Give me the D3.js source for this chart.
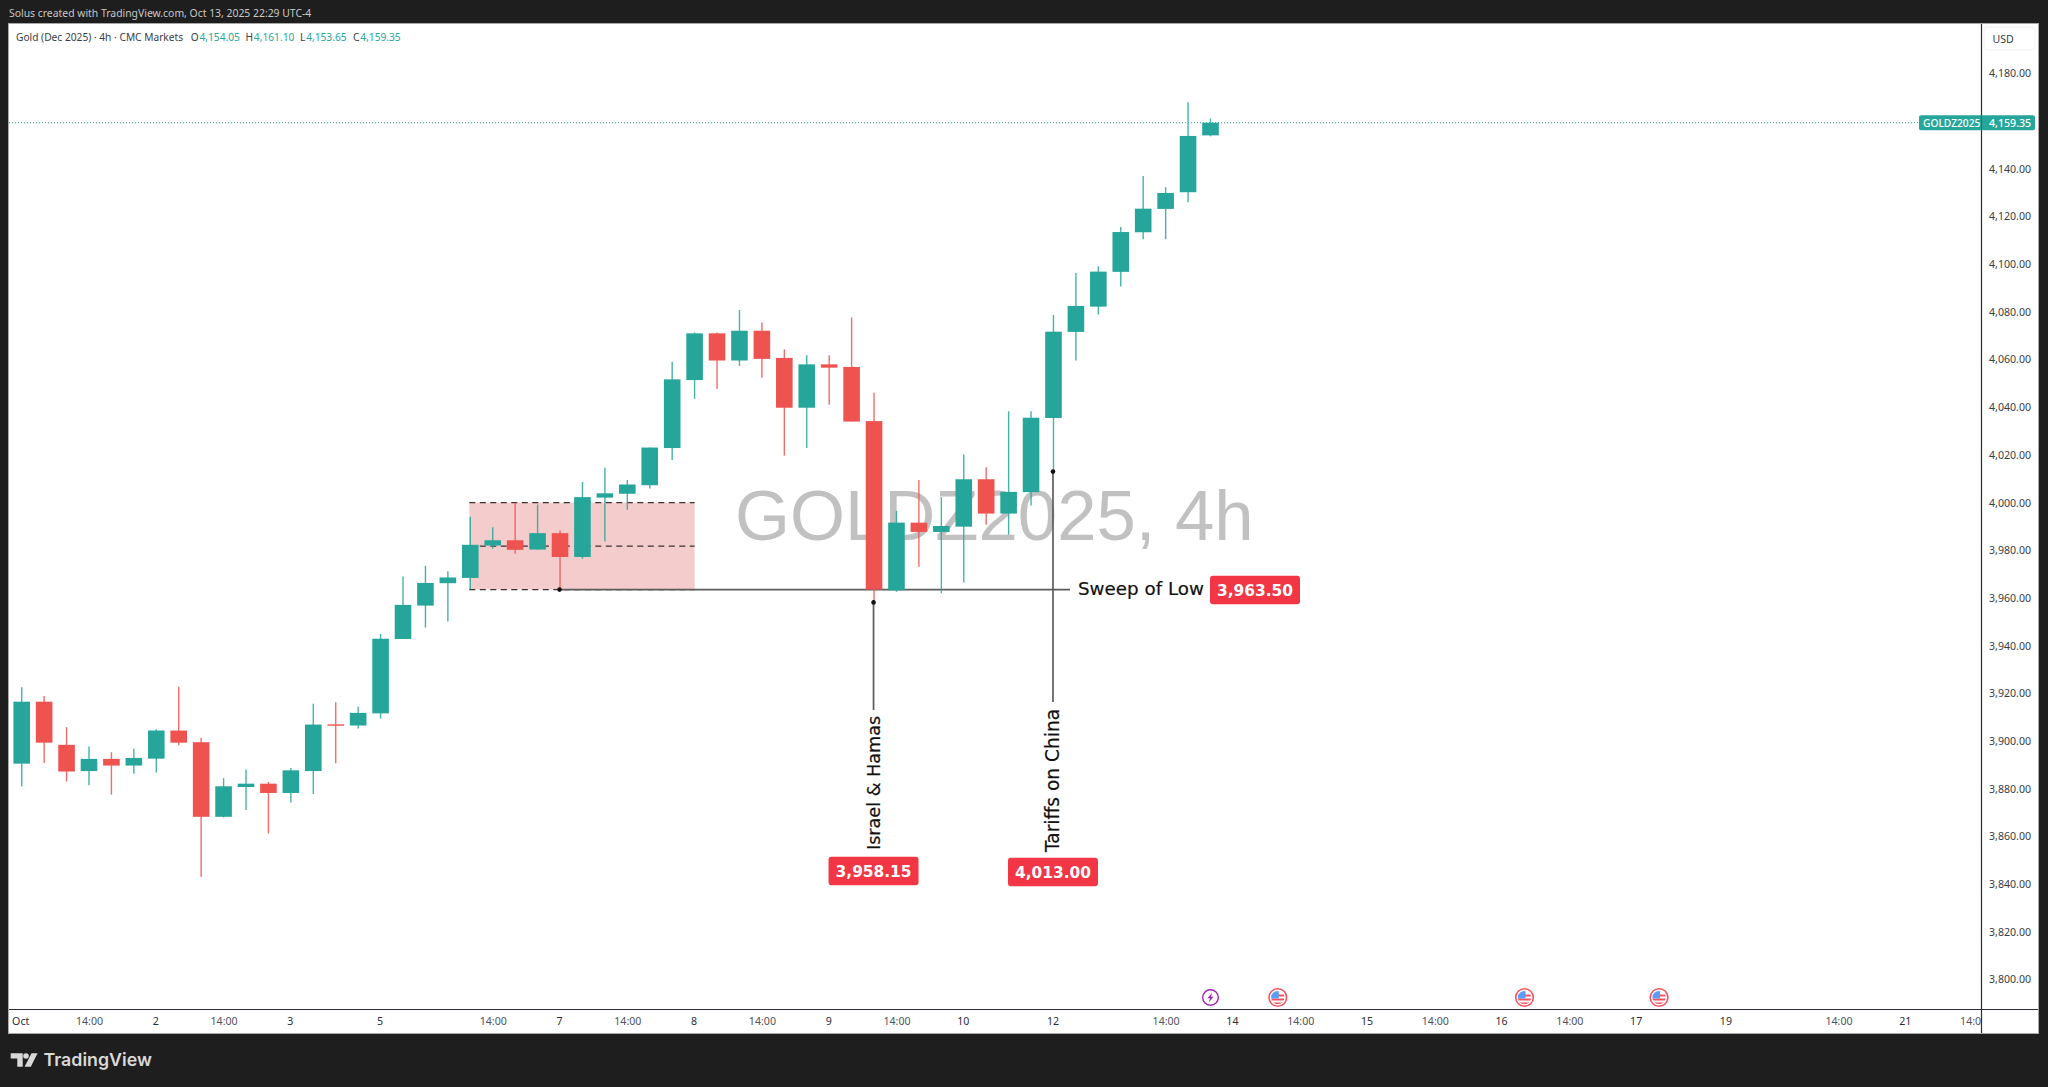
<!DOCTYPE html>
<html><head><meta charset="utf-8">
<script src="https://cdnjs.cloudflare.com/ajax/libs/d3/7.8.5/d3.min.js"></script>
<style>html,body{margin:0;padding:0;background:#1e1e1e;overflow:hidden}svg{display:block}text{font-family:"Noto Sans",sans-serif}</style>
</head><body><svg id="c" width="2048" height="1087"></svg>
<script>
const opens=[3890.5,3916.5,3898.4,3887.4,3892.5,3889.7,3892.6,3904.4,3899.5,3868.2,3880.7,3882.1,3878.2,3887.4,3907.0,3906.5,3911.6,3942.8,3956.8,3966.2,3968.4,3982.0,3984.2,3980.3,3987.2,3977.2,4002.1,4003.7,4007.3,4022.9,4051.4,4071.0,4059.6,4072.1,4060.7,4039.8,4058.0,4056.9,4034.2,3963.2,3991.6,3987.7,3989.9,4009.8,3995.4,4004.4,4035.5,4071.6,4082.2,4096.8,4113.4,4123.2,4130.2,4154.05];
const highs=[3922.5,3918.9,3905.8,3897.7,3895.3,3896.7,3904.9,3922.8,3901.4,3884.4,3888.0,3882.8,3888.7,3915.6,3916.3,3914.4,3944.9,3969.0,3973.5,3971.2,3994.1,3989.7,4000.0,3999.2,3988.3,4008.7,4014.6,4009.5,4023.1,4059.1,4071.4,4071.4,4080.8,4075.5,4064.3,4061.8,4061.8,4077.7,4046.1,3996.5,4009.5,4002.3,4020.2,4014.8,4038.3,4038.3,4078.7,4096.3,4099.1,4115.6,4137.0,4132.3,4167.9,4161.10];
const lows=[3880.9,3890.8,3883.0,3881.4,3877.5,3886.3,3886.8,3898.2,3843.0,3867.9,3871.1,3861.2,3874.2,3877.8,3890.7,3905.2,3909.4,3942.8,3947.6,3950.1,3963.7,3980.6,3978.5,3980.3,3963.4,3976.5,3983.7,3997.0,4005.9,4017.9,4043.6,4047.7,4057.3,4052.4,4019.7,4022.9,4041.0,4034.0,3958.15,3962.6,3973.1,3962.0,3966.5,3990.7,3986.5,3998.8,4013.0,4059.6,4078.9,4090.6,4110.5,4110.5,4126.0,4153.65];
const closes=[3916.5,3899.3,3887.2,3892.5,3889.7,3892.9,3904.4,3899.3,3868.2,3881.0,3882.1,3878.2,3887.7,3906.9,3906.7,3911.8,3942.9,3957.1,3966.3,3968.6,3982.3,3984.2,3980.2,3987.2,3977.2,4002.3,4003.9,4007.6,4023.1,4051.7,4071.0,4059.6,4072.1,4060.3,4039.8,4058.0,4056.6,4034.0,3963.5,3991.6,3987.7,3990.2,4009.8,3995.4,4004.5,4035.6,4071.7,4082.5,4096.9,4113.5,4123.3,4129.9,4153.8,4159.35];
const priceTicks=[4180,4140,4120,4100,4080,4060,4040,4020,4000,3980,3960,3940,3920,3900,3880,3860,3840,3820,3800];
const timeIdx=[0,3,6,9,12,16,21,24,27,30,33,36,39,42,46,51,54,57,60,63,66,69,72,76,81,84,87];
const timeLabels=["Oct","14:00","2","14:00","3","5","14:00","7","14:00","8","14:00","9","14:00","10","12","14:00","14","14:00","15","14:00","16","14:00","17","19","14:00","21","14:00"];
const flagEvents=[56,67,73];
const boltEvents=[53];
const zonePrices=[4000,3981.75,3963.5];
const zoneIdx=[20,30];
const sweep={fromIdx:24,price:3963.5,label:"Sweep of Low",tag:"3,963.50"};
const callouts=[{idx:38,price:3958.15,label:"Israel & Hamas",tag:"3,958.15"},{idx:46,price:4013,label:"Tariffs on China",tag:"4,013.00"}];
const lastPrice=4159.35;
const legendParts=[["O","4,154.05",190.7],["H","4,161.10",245.5],["L","4,153.65",300],["C","4,159.35",353]];

const UP="#26a69a",DOWN="#ef5350";
const L=9,R=2038,T=24,B=1033,AX=1981,AY=1009;
const svg=d3.select("#c");
const x=d3.scaleLinear().domain([0,1]).range([21.7,44.13]);
const y=d3.scaleLinear().domain([4180,3800]).range([73.5,979.4]);
const mono='"Noto Sans",sans-serif', big='"DejaVu Sans",sans-serif';

svg.append("rect").attr("x",L-.5).attr("y",T-.5).attr("width",R-L+1).attr("height",B-T+1).attr("fill","#fff").attr("stroke","#a8a8a8");
const defs=svg.append("defs");
defs.append("clipPath").attr("id","pane").append("rect").attr("x",L).attr("y",T).attr("width",AX-L).attr("height",AY-T);
defs.append("clipPath").attr("id","taxis").append("rect").attr("x",L).attr("y",AY).attr("width",AX-L).attr("height",B-AY);
defs.append("clipPath").attr("id","flag").append("circle").attr("r",6.6);

svg.append("text").attr("x",9).attr("y",17).attr("fill","#c9c9c9").attr("font-size",10.4).text("Solus created with TradingView.com, Oct 13, 2025 22:29 UTC-4");

// watermark
svg.append("text").attr("x",735).attr("y",540).attr("fill","#c1c1c1").style("font-family",'"Liberation Sans",Arial,sans-serif').attr("font-size",70.7).text("GOLDZ2025, 4h");

// zone
const pane=svg.append("g").attr("clip-path","url(#pane)");
pane.append("rect").attr("x",x(zoneIdx[0])-1).attr("width",x(zoneIdx[1])-x(zoneIdx[0])+1).attr("y",y(zonePrices[0])).attr("height",y(zonePrices[2])-y(zonePrices[0])).attr("fill","#f5cccc");
pane.selectAll("line.z").data(zonePrices).join("line").attr("class","z").attr("x1",x(zoneIdx[0])-1).attr("x2",x(zoneIdx[1])).attr("y1",d=>y(d)).attr("y2",d=>y(d)).attr("stroke","#3a3030").attr("stroke-width",1.4).attr("stroke-dasharray","6 4.5");

// sweep line
pane.append("line").attr("x1",x(sweep.fromIdx)).attr("x2",1070).attr("y1",y(sweep.price)).attr("y2",y(sweep.price)).attr("stroke","#5c5c5c").attr("stroke-width",1.7);

// last price line
pane.append("line").attr("x1",L).attr("x2",AX).attr("y1",y(lastPrice)).attr("y2",y(lastPrice)).attr("stroke",UP).attr("stroke-width",1).attr("stroke-dasharray","1 2");

// callout vertical lines
const lineEnds=[710,702];
pane.selectAll("line.c").data(callouts).join("line").attr("class","c").attr("x1",d=>x(d.idx)-.5).attr("x2",d=>x(d.idx)-.5).attr("y1",d=>y(d.price)).attr("y2",(d,i)=>lineEnds[i]).attr("stroke","#5c5c5c").attr("stroke-width",1.7);

// candles
const data=opens.map((o,i)=>({i,o,h:highs[i],l:lows[i],c:closes[i]}));
const g=pane.append("g");
g.selectAll("line.w").data(data).join("line").attr("class","w").attr("x1",d=>x(d.i)).attr("x2",d=>x(d.i)).attr("y1",d=>y(d.h)).attr("y2",d=>y(d.l)).attr("stroke",d=>d.c>=d.o?UP:DOWN).attr("stroke-width",1.4).attr("stroke-opacity",.85);
g.selectAll("rect.b").data(data).join("rect").attr("class","b").attr("x",d=>x(d.i)-8.3).attr("width",16.6).attr("y",d=>y(Math.max(d.o,d.c))).attr("height",d=>Math.max(1.4,Math.abs(y(d.o)-y(d.c)))).attr("fill",d=>d.c>=d.o?UP:DOWN);

// dots
const dots=[{i:sweep.fromIdx,p:sweep.price},...callouts.map(d=>({i:d.idx,p:d.price}))];
pane.selectAll("circle.d").data(dots).join("circle").attr("class","d").attr("cx",d=>x(d.i)-.5).attr("cy",d=>y(d.p)).attr("r",2.3).attr("fill","#111");

// annotation text
function tag(cx,cy,s){
  const t=svg.append("g").attr("transform",`translate(${cx},${cy})`);
  t.append("rect").attr("x",-45).attr("y",-14.2).attr("width",90).attr("height",28.4).attr("rx",3).attr("fill","#f23645");
  t.append("text").attr("text-anchor","middle").attr("y",6).attr("fill","#fff").attr("font-weight",600).style("font-family",big).attr("font-size",15.4).text(s);
}
svg.append("text").attr("x",1078).attr("y",595).attr("fill","#111").attr("stroke","#111").attr("stroke-width",.2).style("font-family",big).attr("font-size",18.3).text(sweep.label);
tag(1255,590,sweep.tag);
const labelBase=[850,852], tagY=[871,872], labelSize=[17.6,18.6];
callouts.forEach((d,i)=>{
  svg.append("text").attr("transform",`translate(${x(d.idx)+5.5},${labelBase[i]}) rotate(-90)`).attr("fill","#111").attr("stroke","#111").attr("stroke-width",.2).style("font-family",big).attr("font-size",labelSize[i]).text(d.label);
  tag(x(d.idx)-.5,tagY[i],d.tag);
});

// legend
svg.append("text").attr("x",16).attr("y",40.5).attr("fill","#3a3d45").attr("font-size",10.2).text("Gold (Dec 2025) · 4h · CMC Markets");
legendParts.forEach(([k,v,px])=>{
  const t=svg.append("text").attr("x",px).attr("y",40.5).attr("font-size",10.2);
  t.append("tspan").attr("fill","#3a3d45").text(k);
  t.append("tspan").attr("fill",UP).attr("dx",.8).text(v);
});

// events
const ev=svg.append("g");
boltEvents.forEach(i=>{
  const e=ev.append("g").attr("transform",`translate(${x(i)},997.5)`);
  e.append("circle").attr("r",7.8).attr("fill","#fff").attr("stroke","#9c27b0").attr("stroke-width",1.4);
  e.append("path").attr("d","M1.8,-5 L-3,0.8 L-0.4,0.8 L-1.8,5 L3,-0.8 L0.4,-0.8 Z").attr("fill","#9c27b0");
});
flagEvents.forEach(i=>{
  const e=ev.append("g").attr("transform",`translate(${x(i)},997.5)`);
  e.append("circle").attr("r",8.8).attr("fill","#fff").attr("stroke","#f7525f").attr("stroke-width",1.6);
  const f=e.append("g").attr("clip-path","url(#flag)");
  f.append("rect").attr("x",-7).attr("y",-7).attr("width",14).attr("height",14).attr("fill","#fff");
  [-3,1,5].forEach(s=>f.append("rect").attr("x",-7).attr("y",s).attr("width",14).attr("height",2).attr("fill","#f7525f"));
  f.append("rect").attr("x",-7).attr("y",-7).attr("width",8).attr("height",8).attr("fill","#5b9cf6");
});

// price axis
const pa=svg.append("g").attr("transform",`translate(${AX},0)`).call(d3.axisRight(y).tickValues(priceTicks).tickSize(0).tickFormat(d3.format(",.2f")));
pa.select(".domain").remove();
pa.selectAll("text").attr("x",8).attr("fill","#3a3d45").attr("font-size",10.6).style("font-family",mono);
svg.append("rect").attr("x",1984).attr("y",27).attr("width",51).attr("height",23).attr("rx",3).attr("fill","#fff").attr("stroke","#f3f3f5");
svg.append("text").attr("x",1992.5).attr("y",43).attr("font-size",10.6).attr("fill","#3a3d45").text("USD");

// time axis
const ta=svg.append("g").attr("clip-path","url(#taxis)").append("g").attr("transform",`translate(0,${AY})`).call(d3.axisBottom(x).tickValues(timeIdx).tickSize(0).tickFormat((d,i)=>timeLabels[i]));
ta.select(".domain").remove();
ta.selectAll("text").attr("y",8).attr("font-size",10.6).style("font-family",mono).attr("dx",(d,i)=>i===0?-1.5:(timeLabels[i]==="14:00"?0:-1)).attr("fill",(d,i)=>timeLabels[i]==="14:00"?"#50535e":"#2a2e39");

// axis borders
svg.append("line").attr("x1",AX+.5).attr("x2",AX+.5).attr("y1",T).attr("y2",B).attr("stroke","#2a2e39").attr("stroke-width",1.2);
svg.append("line").attr("x1",L).attr("x2",R).attr("y1",AY+.5).attr("y2",AY+.5).attr("stroke","#2a2e39").attr("stroke-width",1.2);

// last price labels
svg.append("rect").attr("x",1919).attr("y",y(lastPrice)-7.4).attr("width",116).attr("height",14.8).attr("rx",2).attr("fill",UP);
svg.append("text").attr("x",1923).attr("y",y(lastPrice)+3.8).attr("fill","#fff").attr("font-weight",500).attr("font-size",10.2).text("GOLDZ2025");
svg.append("text").attr("x",1989).attr("y",y(lastPrice)+3.8).attr("fill","#fff").attr("font-weight",500).attr("font-size",10.6).text(d3.format(",.2f")(lastPrice));
svg.append("line").attr("x1",AX+.5).attr("x2",AX+.5).attr("y1",y(lastPrice)-7.4).attr("y2",y(lastPrice)+7.4).attr("stroke","#1c6f66").attr("stroke-width",1);

// brand
const br="#d9d9d9";
svg.append("path").attr("d","M10.7,1053.3H22.7V1066.7H17.3V1058.4H10.7Z").attr("fill",br);
svg.append("circle").attr("cx",26).attr("cy",1056).attr("r",2.8).attr("fill",br);
svg.append("path").attr("d","M31.5,1053.3H37.6L30.8,1066.7H24.6Z").attr("fill",br);
svg.append("text").attr("x",43.5).attr("y",1066).attr("fill",br).attr("font-weight",600).attr("font-size",17.8).style("font-family",'Inter,"Noto Sans",sans-serif').text("TradingView");
</script></body></html>
